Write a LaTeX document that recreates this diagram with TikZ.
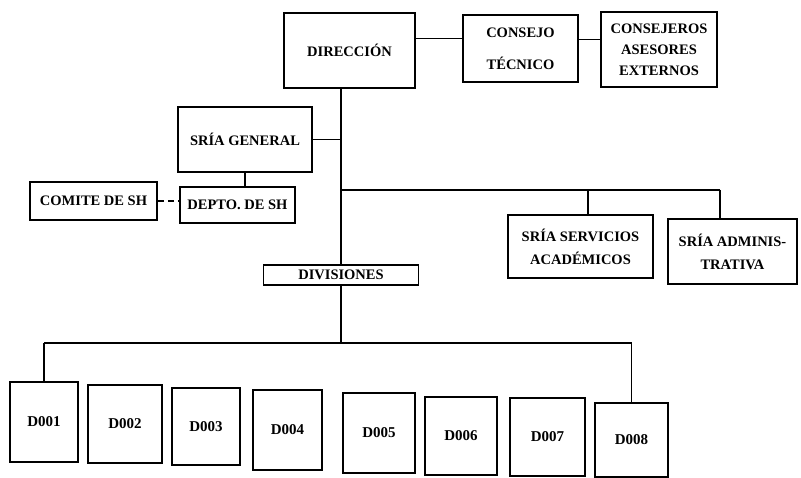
\documentclass[tikz,border=0pt]{standalone}
\usepackage{fontspec}
\setmainfont{Liberation Serif}
\begin{document}
\begin{tikzpicture}[x=1pt,y=-1pt,
  bx/.style={draw,line width=1.8pt,rectangle,inner sep=0pt,align=center,
    font=\bfseries\fontsize{14.5}{21}\selectfont},
  ln/.style={line width=1.8pt},
  dbox/.style={bx,minimum width=70pt,minimum height=78pt,font=\bfseries\fontsize{15}{18}\selectfont}]
\useasboundingbox (0,0) rectangle (801,478);
% top row
\node[bx,minimum width=131pt,minimum height=75pt] (dir) at (349.5,50.5) {DIRECCIÓN};
\node[bx,minimum width=115pt,minimum height=67pt,font=\bfseries\fontsize{14.5}{32}\selectfont] (cons) at (520.5,48.5) {CONSEJO\\TÉCNICO};
\node[bx,minimum width=116pt,minimum height=75pt,font=\bfseries\fontsize{14.5}{21}\selectfont] (ases) at (659,49.5) {CONSEJEROS\\ASESORES\\EXTERNOS};
% left branch
\node[bx,minimum width=134pt,minimum height=65pt] (sg) at (245,139.5) {SRÍA GENERAL};
\node[bx,minimum width=115pt,minimum height=36pt] (depto) at (237.5,205) {DEPTO. DE SH};
\node[bx,minimum width=127pt,minimum height=38pt] (comite) at (93.5,201) {COMITE DE SH};
% right branch
\node[bx,minimum width=145pt,minimum height=63pt,font=\bfseries\fontsize{14.5}{23}\selectfont] (serv) at (580.5,246.5) {SRÍA SERVICIOS\\ACADÉMICOS};
\node[bx,minimum width=129pt,minimum height=65pt,font=\bfseries\fontsize{14.5}{23}\selectfont] (adm) at (732.5,251.5) {SRÍA ADMINIS-\\TRATIVA};
% divisiones
\node[bx,minimum width=155pt,minimum height=20pt] (div) at (341,275) {DIVISIONES};
% D boxes
\node[dbox,minimum width=68pt,minimum height=80pt] (d1) at (44,422) {D001};
\node[dbox,minimum width=74pt] (d2) at (125,424) {D002};
\node[dbox,minimum width=68pt,minimum height=77pt] (d3) at (206,426.5) {D003};
\node[dbox,minimum width=69pt,minimum height=80pt] (d4) at (287.5,430) {D004};
\node[dbox,minimum width=72pt,minimum height=80pt] (d5) at (379,433) {D005};
\node[dbox,minimum width=72pt] (d6) at (461,436) {D006};
\node[dbox,minimum width=75pt] (d7) at (547.5,437) {D007};
\node[dbox,minimum width=73pt,minimum height=74pt] (d8) at (631.5,440) {D008};
% junction coordinates
\coordinate (trunk) at (341,100);
\coordinate (b1) at (341,190);
\coordinate (b2) at (341,343);
\coordinate (sd) at ([xshift=7.5pt]serv.north);
\coordinate (ad) at ([xshift=-12.5pt]adm.north);
\coordinate (c1) at ([yshift=12pt]dir.east);
\coordinate (c2) at ([yshift=9pt]cons.east);
% connectors
\draw[ln] (c1) -- (c1 -| cons.west);
\draw[ln] (c2) -- (c2 -| ases.west);
\draw[ln] (dir.south -| trunk) -- (div.north -| trunk);
\draw[ln] (sg.east) -- (sg.east -| trunk);
\draw[ln] (sg.south) -- (sg.south |- depto.north);
\draw[ln,dash pattern=on 6pt off 4pt] (comite.east) -- (comite.east -| depto.west);
\draw[ln] (b1) -- (b1 -| ad);
\draw[ln] (b1 -| sd) -- (sd);
\draw[ln] (b1 -| ad) -- (ad);
\draw[ln] (div.south) -- (div.south |- b2);
\draw[ln] (b2 -| d1.north) -- (b2 -| d8.north);
\draw[ln] (b2 -| d1.north) -- (d1.north);
\draw[ln] (b2 -| d8.north) -- (d8.north);
\end{tikzpicture}
\end{document}
